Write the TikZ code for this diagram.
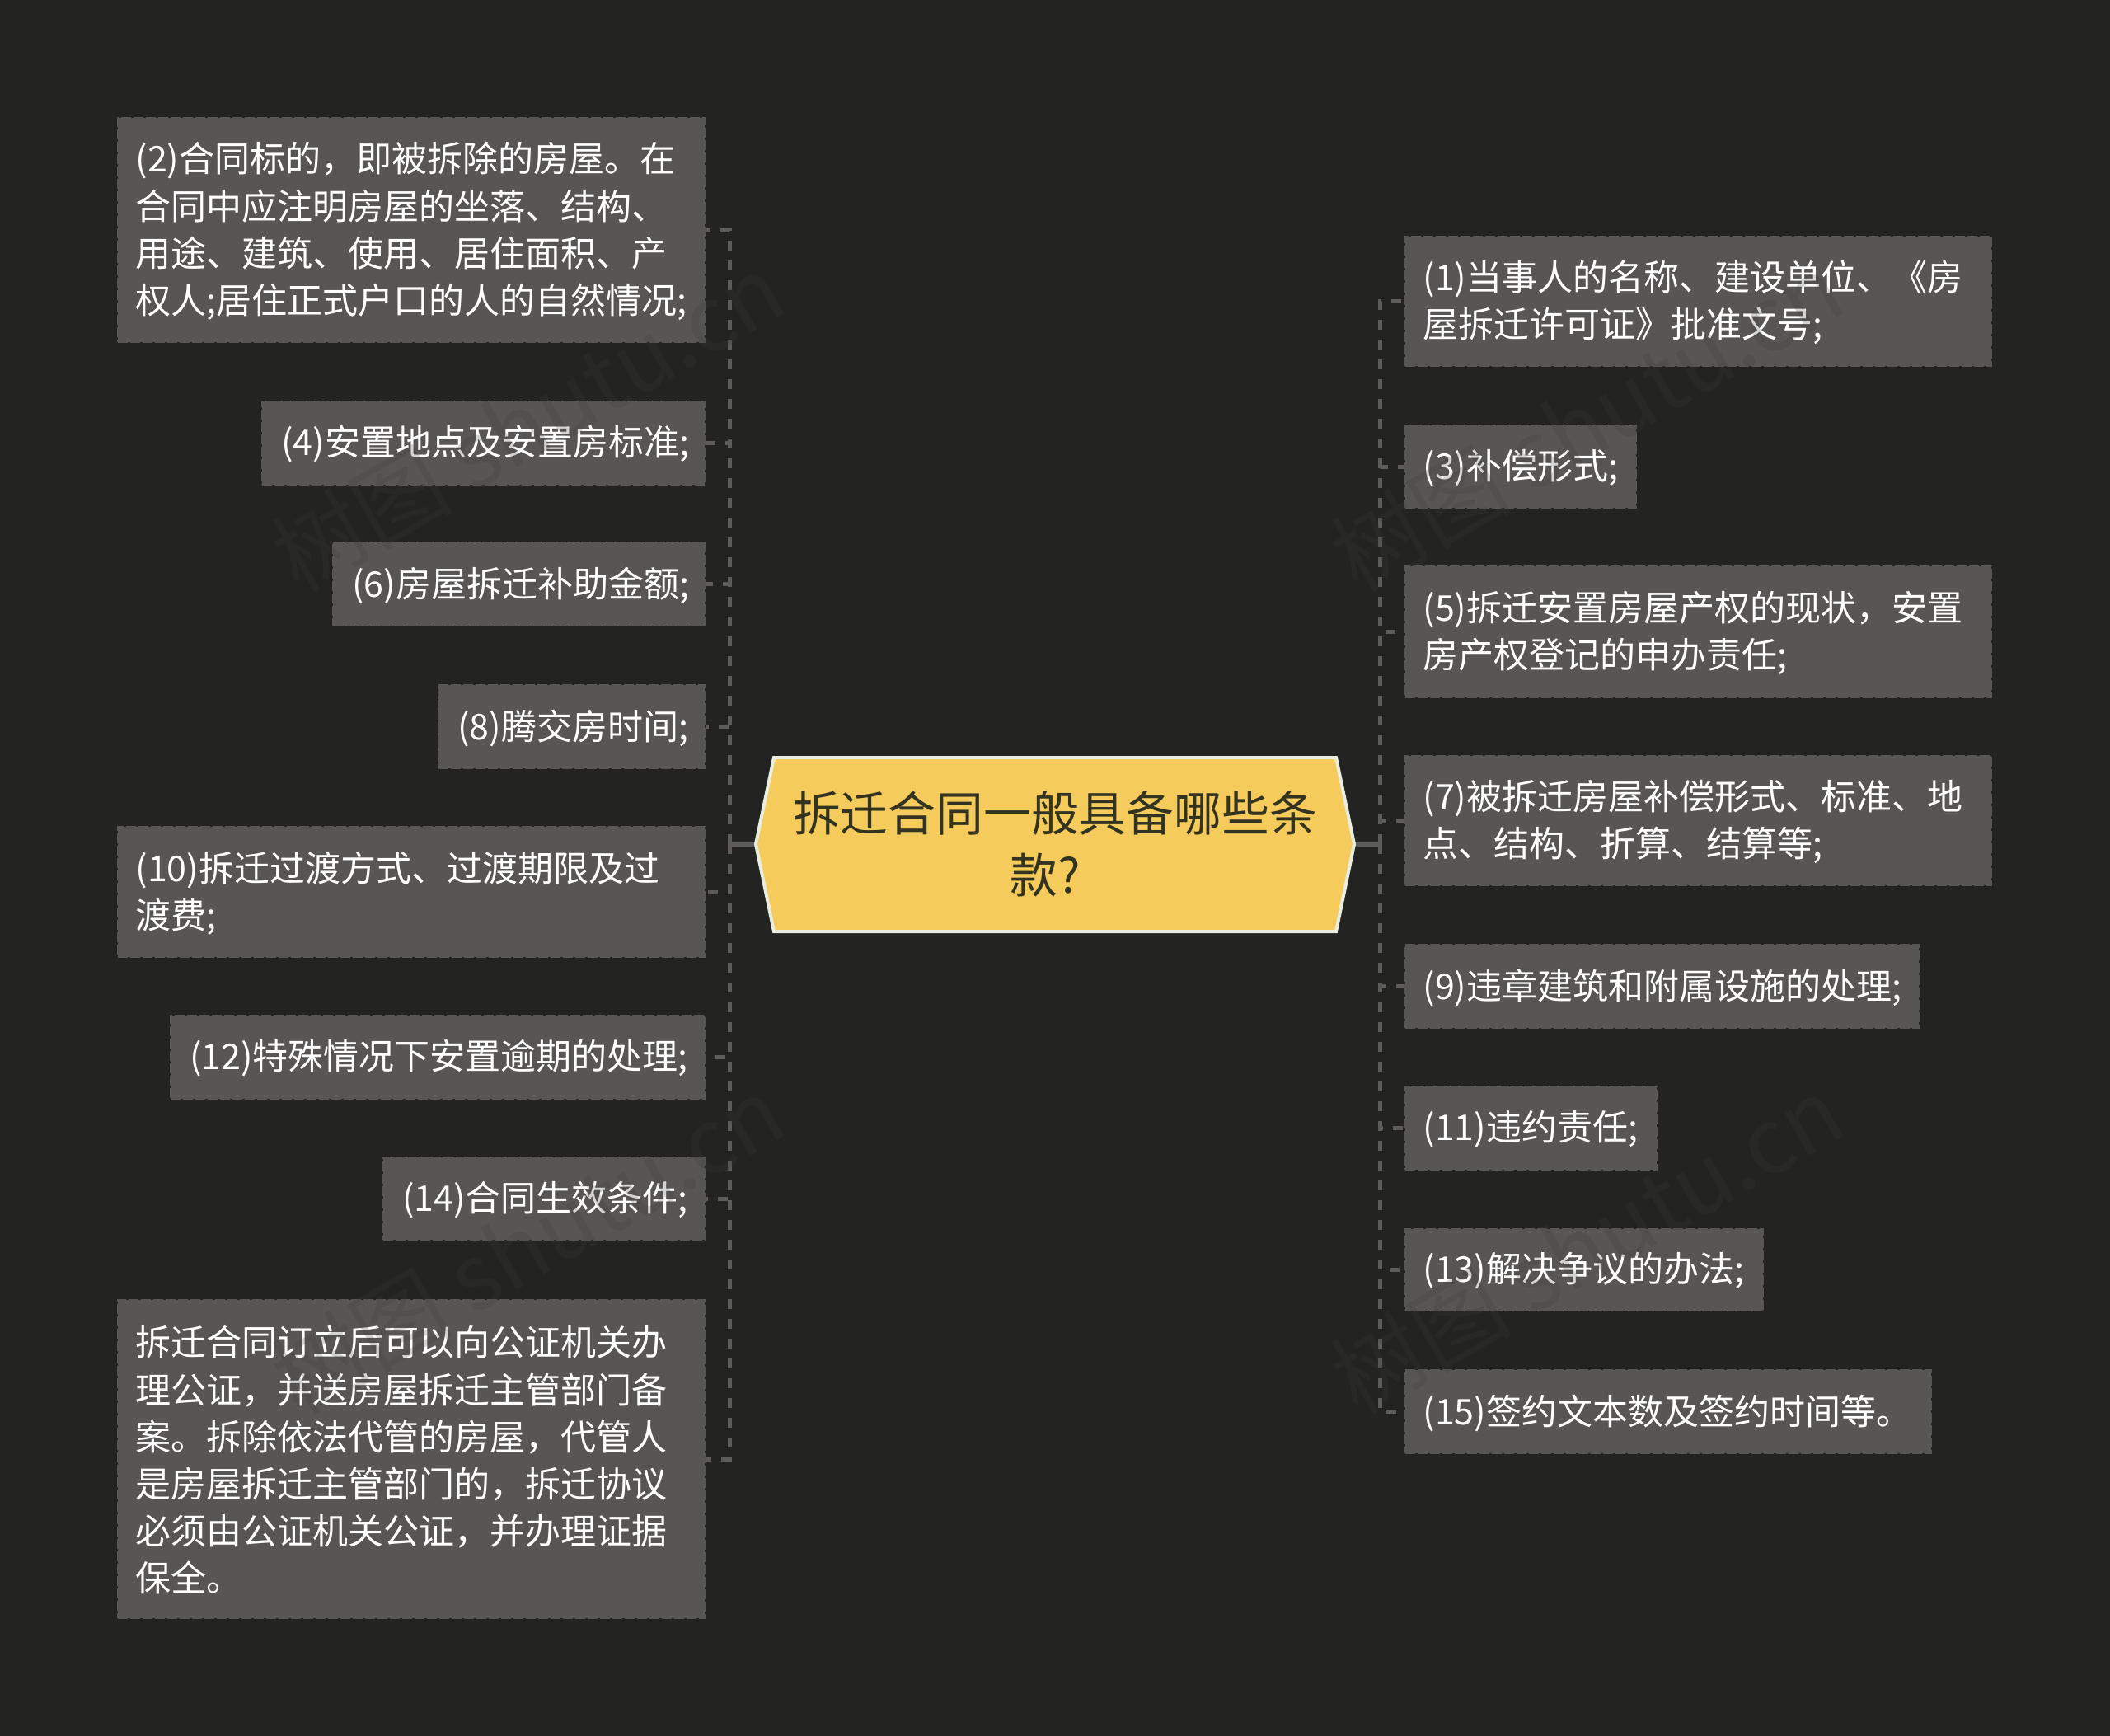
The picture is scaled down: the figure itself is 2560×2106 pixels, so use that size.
\documentclass[tikz,border=0pt]{standalone}
\usepackage{fontspec}
\setmainfont{Noto Sans CJK SC}
\definecolor{bgc}{HTML}{232322}
\definecolor{boxc}{HTML}{585654}
\definecolor{linec}{HTML}{5E5C5A}
\definecolor{rootc}{HTML}{F5CB5C}
\definecolor{rootb}{HTML}{E8EDDF}
\definecolor{roott}{HTML}{333322}
\definecolor{markc}{HTML}{3C3C3C}
\tikzset{
  leaf/.style={rectangle,fill=boxc,draw=boxc,line width=2pt,dash pattern=on 12pt off 3pt,inner sep=0pt},
  leaftext/.style={rectangle,inner xsep=21.5pt,inner ysep=0pt,align=left,text=white,font=\fontsize{43}{57.2}\selectfont},
  conn/.style={draw=linec,line width=5pt,dash pattern=on 12pt off 12pt},
  stub/.style={draw=linec,line width=5pt},
  wmark/.style={text=markc,text opacity=.22,rotate=30,font=\fontsize{110}{120}\selectfont},
  pt/.style={inner sep=0pt,outer sep=0pt}
}
\newcommand{\leafbox}[6]{% name, x1, y1, x2, y2, text
  \pgfmathsetmacro{\lbw}{#4-#2}
  \pgfmathsetmacro{\lbh}{#5-#3}
  \pgfmathsetmacro{\lbt}{#4-#2-43}
  \node[leaf,minimum width=\lbw pt,minimum height=\lbh pt] (#1) at ({(#2+#4)/2},{(#3+#5)/2}) {};
  \node[leaftext,text width=\lbt pt,yshift=-1.5pt] (#1t) at (#1.center) {#6};
}
\newcommand{\nudge}{\hspace*{1.6pt}}
\begin{document}
\begin{tikzpicture}[x=1pt,y=-1pt]
\useasboundingbox (0,0) rectangle (2560,2106);
\fill[bgc] (0,0) rectangle (2560,2106);
% root
\coordinate (rl) at (917,1024);
\coordinate (rr) at (1643,1024);
\coordinate (tl) at (885,1024);
\coordinate (tr) at (1674,1024);
% leaves left
\leafbox{a2}{143}{143}{855}{415}{(2)合同标的，即被拆除的房屋。在\\合同中应注明房屋的坐落、结构、\\用途、建筑、使用、居住面积、产\\权人;居住正式户口的人的自然情况;}
\leafbox{a4}{318}{487}{855}{588}{\nudge(4)安置地点及安置房标准;}
\leafbox{a6}{404}{658}{855}{759}{\nudge(6)房屋拆迁补助金额;}
\leafbox{a8}{532}{831}{855}{932}{\nudge(8)腾交房时间;}
\leafbox{a10}{143}{1003}{855}{1161}{(10)拆迁过渡方式、过渡期限及过\\渡费;}
\leafbox{a12}{207}{1232}{855}{1333}{\nudge(12)特殊情况下安置逾期的处理;}
\leafbox{a14}{465}{1404}{855}{1504}{\nudge(14)合同生效条件;}
\leafbox{a16}{143}{1577}{855}{1963}{拆迁合同订立后可以向公证机关办\\理公证，并送房屋拆迁主管部门备\\案。拆除依法代管的房屋，代管人\\是房屋拆迁主管部门的，拆迁协议\\必须由公证机关公证，并办理证据\\保全。}
% leaves right
\leafbox{b1}{1705}{287}{2416}{444}{(1)当事人的名称、建设单位、《房\\屋拆迁许可证》批准文号;}
\leafbox{b3}{1705}{516}{1985}{616}{(3)补偿形式;}
\leafbox{b5}{1705}{687}{2416}{846}{(5)拆迁安置房屋产权的现状，安置\\房产权登记的申办责任;}
\leafbox{b7}{1705}{917}{2416}{1074}{(7)被拆迁房屋补偿形式、标准、地\\点、结构、折算、结算等;}
\leafbox{b9}{1705}{1146}{2328}{1247}{(9)违章建筑和附属设施的处理;}
\leafbox{b11}{1705}{1318}{2010}{1419}{(11)违约责任;}
\leafbox{b13}{1705}{1491}{2139}{1590}{(13)解决争议的办法;}
\leafbox{b15}{1705}{1662}{2343}{1763}{(15)签约文本数及签约时间等。}
% connectors
\foreach \n in {a2,a4,a6,a8,a10,a12,a14,a16}
  \draw[conn] (tl) -- (tl |- \n.east) -- (\n.east);
\foreach \n in {b1,b3,b5,b7,b9,b11,b13,b15}
  \draw[conn] (tr) -- (tr |- \n.west) -- (\n.west);
\draw[stub] (tl) -- (rl);
\draw[stub] (tr) -- (rr);
% root node
\draw[fill=rootc,draw=rootb,line width=4pt,line join=miter] (rl) -- (939,919) -- (1621,919) -- (rr) -- (1621,1130) -- (939,1130) -- cycle;
\node[pt,align=center,text=roott,font=\fontsize{57.8}{74.5}\selectfont] (root) at (1280,1024) {拆迁合同一般具备哪些条\\款?\hspace*{24pt}};
% watermarks
\node[wmark] (w1) at (640,512) {树图 shutu.cn};
\node[wmark] (w2) at (1925,512) {树图 shutu.cn};
\node[wmark] (w3) at (640,1510) {树图 shutu.cn};
\node[wmark] (w4) at (1925,1510) {树图 shutu.cn};
\end{tikzpicture}
\end{document}
